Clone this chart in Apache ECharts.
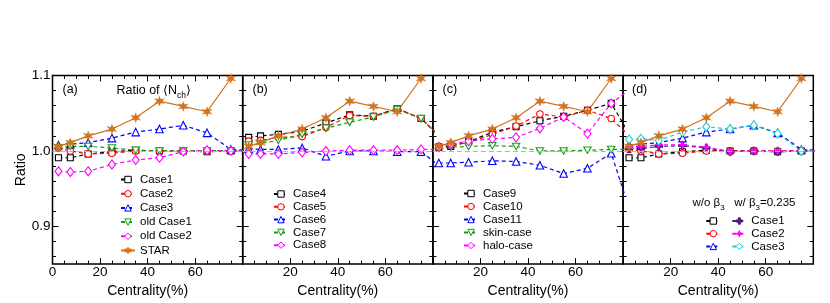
<!DOCTYPE html>
<html><head><meta charset="utf-8">
<script src="https://cdn.jsdelivr.net/npm/echarts@6/dist/echarts.min.js"></script>
<style>html,body{margin:0;padding:0;background:#fff}#c{width:830px;height:303px}</style>
</head><body><div id="c"></div>
<script>
// ---------- data ----------
const centrality = [2.5, 7.5, 15, 25, 35, 45, 55, 65, 75, 85];
const xTickLabels = [0, 20, 40, 60];
const yTickLabels = [0.9, 1.0, 1.1];
const yMinorTicks = [0.86, 0.88, 0.92, 0.94, 0.96, 0.98, 1.02, 1.04, 1.06, 1.08];
const refLevel = 1.0;

const starValues = [1.006, 1.011, 1.020, 1.029, 1.044, 1.066, 1.059, 1.052, 1.096];

// panel (a)
const aCase1 = [0.991, 0.991, 0.996, 0.999, 1.001, 1.000, 1.000, 0.999, 1.000, 1.000];
const aCase2 = [1.004, 1.000, 0.996, 0.997, 1.000, 1.000, 1.000, 1.000, 1.000, 1.000];
const aCase3 = [1.008, 1.009, 1.011, 1.017, 1.025, 1.029, 1.034, 1.024, 1.002, 1.000];
const aOldCase1 = [1.004, 1.006, 1.006, 1.004, 1.001, 1.000, 1.000, 1.000, 1.000, 1.000];
const aOldCase2 = [0.973, 0.972, 0.973, 0.982, 0.988, 0.991, 0.999, 1.001, 1.000, 1.000];
// panel (b)
const bCase4 = [1.018, 1.020, 1.022, 1.026, 1.037, 1.048, 1.046, 1.056, 1.043, 1.013];
const bCase5 = [1.013, 1.014, 1.018, 1.019, 1.031, 1.047, 1.046, 1.056, 1.043, 1.013];
const bCase6 = [1.003, 1.002, 1.002, 1.004, 0.993, 1.000, 1.000, 0.999, 0.999, 0.975];
const bCase7 = [1.008, 1.010, 1.014, 1.022, 1.030, 1.038, 1.045, 1.055, 1.043, 1.013];
const bCase8 = [0.996, 0.996, 0.996, 0.998, 1.000, 1.001, 1.001, 1.001, 1.002, 1.002];
// panel (c)
const cCase9 = [1.005, 1.006, 1.012, 1.025, 1.032, 1.040, 1.046, 1.054, 1.063, 1.010];
const cCase10 = [1.006, 1.008, 1.011, 1.022, 1.033, 1.049, 1.045, 1.054, 1.043, 1.013];
const cCase11 = [0.984, 0.984, 0.985, 0.987, 0.986, 0.981, 0.970, 0.977, 0.997, 0.900];
const cSkin = [1.004, 1.005, 1.006, 1.007, 1.006, 1.000, 1.000, 1.001, 1.002, 1.002];
const cHalo = [1.005, 1.009, 1.013, 1.016, 1.018, 1.030, 1.045, 1.023, 1.063, 1.087];
// panel (d)
const dWoCase1 = [0.991, 0.991, 0.996, 0.999, 1.001, 1.000, 1.000, 0.999, 1.000, 1.000];
const dWoCase2 = [1.002, 1.000, 0.996, 0.997, 1.000, 1.000, 1.000, 1.000, 1.000, 1.000];
const dWoCase3 = [1.008, 1.009, 1.011, 1.017, 1.025, 1.029, 1.034, 1.024, 1.002, 1.000];
const dWCase1 = [1.003, 1.003, 1.006, 1.007, 1.004, 0.999, 1.000, 0.999, 1.000, 1.000];
const dWCase2 = [1.006, 1.006, 1.008, 1.008, 1.005, 0.999, 1.000, 1.000, 1.000, 1.000];
const dWCase3 = [1.015, 1.016, 1.014, 1.025, 1.032, 1.029, 1.034, 1.023, 1.000, 1.000];

// ---------- styles ----------
const FONT = '"Liberation Sans", Arial, Helvetica, sans-serif';
const COL = {black:'#000000', red:'#ff0000', blue:'#0000ff', green:'#14a014', magenta:'#ff00ff',
             orange:'#d2731e', indigo:'#4b1c7a', cyan:'#1ccfcf'};
function starPath(n, ro, ri) {
  let s = 'path://';
  for (let k = 0; k < 2 * n; k++) {
    const a = k * Math.PI / n - Math.PI / 2, r = (k % 2) ? ri : ro;
    s += (k ? 'L' : 'M') + (5 + r * Math.cos(a)).toFixed(2) + ',' + (5 + r * Math.sin(a)).toFixed(2);
  }
  return s + 'Z';
}
const SYM = {square:'rect', circle:'circle', tri:'triangle', triDown:'path://M0,0L10,0L5,8.7Z',
  diamond:'diamond', star:starPath(6, 5, 2.1),
  plus:'path://M3.4,0H6.6V3.4H10V6.6H6.6V10H3.4V6.6H0V3.4H3.4Z',
  star4:'path://M5,0L6.3,3.7L10,5L6.3,6.3L5,10L3.7,6.3L0,5L3.7,3.7Z'};
const SIZE = {square:6, circle:6.5, tri:7.5, triDown:[7.5,6.5], diamond:[7,9], star:10, plus:8, star4:9};
const FILLED = {star:true, plus:true, star4:true};

const gridLeft0 = 52.5, gridW = 190.2, gridTop = 75.5, gridH = 190.5;
const grids = [], xAxes = [], yAxes = [], series = [];
const tickLS = {color:'#000', width:1};
for (let i = 0; i < 4; i++) {
  grids.push({left: gridLeft0 + i * gridW, top: gridTop, width: gridW, height: gridH,
    show: true, borderColor: '#000', borderWidth: 1.5, backgroundColor: 'transparent'});
  const xb = {gridIndex: i, type: 'value', min: 0, max: 80, interval: 20,
    splitLine: {show: false}, minorSplitLine: {show: false}, axisLine: {show: false, onZero: false},
    axisTick: {show: true, inside: true, length: 6, lineStyle: tickLS},
    minorTick: {show: true, splitNumber: 4, length: 3.5, lineStyle: tickLS}};
  xAxes.push(Object.assign({}, xb, {position: 'bottom',
    axisLabel: {show: true, fontSize: 13.5, color: '#000', fontFamily: FONT, margin: 1,
      formatter: v => (xTickLabels.indexOf(v) >= 0 && !(i > 0 && v === 0)) ? String(v) : ''},
    name: 'Centrality(%)', nameLocation: 'middle', nameGap: 17,
    nameTextStyle: {fontSize: 14, color: '#000', fontFamily: FONT}}));
  xAxes.push(Object.assign({}, xb, {position: 'top', axisLabel: {show: false}}));
  const yb = {gridIndex: i, type: 'value', min: 0.85, max: 1.1,
    splitLine: {show: false}, axisLine: {show: false, onZero: false}, minorTick: {show: false}};
  yAxes.push(Object.assign({}, yb, {position: 'left',
    axisTick: {show: true, inside: true, length: 6, customValues: yTickLabels, lineStyle: tickLS},
    axisLabel: {show: i === 0, customValues: yTickLabels, formatter: v => v.toFixed(1),
      fontSize: 13.5, color: '#000', fontFamily: FONT, margin: 2},
    name: i === 0 ? 'Ratio' : '', nameLocation: 'middle', nameGap: 22,
    nameTextStyle: {fontSize: 14, color: '#000', fontFamily: FONT}}));
  yAxes.push(Object.assign({}, yb, {position: 'left', axisLabel: {show: false},
    axisTick: {show: true, inside: true, length: 3.5, customValues: yMinorTicks, lineStyle: tickLS}}));
  yAxes.push(Object.assign({}, yb, {position: 'right', axisLabel: {show: false},
    axisTick: {show: true, inside: true, length: 6, customValues: yTickLabels, lineStyle: tickLS}}));
  yAxes.push(Object.assign({}, yb, {position: 'right', axisLabel: {show: false},
    axisTick: {show: true, inside: true, length: 3.5, customValues: yMinorTicks, lineStyle: tickLS}}));
}

function mk(panel, name, values, color, sym, dashed, withRef) {
  const s = {
    type: 'line', name: 'abcd'[panel] + ':' + name, xAxisIndex: panel * 2, yAxisIndex: panel * 4,
    data: values.map((v, k) => [centrality[k], v]),
    symbol: SYM[sym], symbolSize: SIZE[sym], clip: true, animation: false,
    lineStyle: {color: color, width: 1.2, type: dashed ? [4, 3] : 'solid'},
    itemStyle: FILLED[sym] ? {color: color, borderColor: color, borderWidth: 0.3}
                           : {color: '#ffffff', borderColor: color, borderWidth: 1.1},
    emphasis: {disabled: true}
  };
  if (withRef) {
    s.markLine = {silent: true, symbol: 'none', animation: false, label: {show: false},
      lineStyle: {color: '#b4b4b4', type: [5, 3], width: 1}, data: [{yAxis: refLevel}]};
  }
  series.push(s);
}
// (a)
mk(0, 'Case1', aCase1, COL.black, 'square', true, true);
mk(0, 'Case2', aCase2, COL.red, 'circle', true);
mk(0, 'Case3', aCase3, COL.blue, 'tri', true);
mk(0, 'old Case1', aOldCase1, COL.green, 'triDown', true);
mk(0, 'old Case2', aOldCase2, COL.magenta, 'diamond', true);
mk(0, 'STAR', starValues, COL.orange, 'star', false);
// (b)
mk(1, 'Case4', bCase4, COL.black, 'square', true, true);
mk(1, 'Case5', bCase5, COL.red, 'circle', true);
mk(1, 'Case6', bCase6, COL.blue, 'tri', true);
mk(1, 'Case7', bCase7, COL.green, 'triDown', true);
mk(1, 'Case8', bCase8, COL.magenta, 'diamond', true);
mk(1, 'STAR', starValues, COL.orange, 'star', false);
// (c)
mk(2, 'Case9', cCase9, COL.black, 'square', true, true);
mk(2, 'Case10', cCase10, COL.red, 'circle', true);
mk(2, 'Case11', cCase11, COL.blue, 'tri', true);
mk(2, 'skin-case', cSkin, COL.green, 'triDown', true);
mk(2, 'halo-case', cHalo, COL.magenta, 'diamond', true);
mk(2, 'STAR', starValues, COL.orange, 'star', false);
// (d)
mk(3, 'wo Case1', dWoCase1, COL.black, 'square', true, true);
mk(3, 'wo Case2', dWoCase2, COL.red, 'circle', true);
mk(3, 'wo Case3', dWoCase3, COL.blue, 'tri', true);
mk(3, 'Case1', dWCase1, COL.indigo, 'plus', true);
mk(3, 'Case2', dWCase2, COL.magenta, 'star4', true);
mk(3, 'Case3', dWCase3, COL.cyan, 'diamond', true);
mk(3, 'STAR', starValues, COL.orange, 'star', false);

function leg(names, left, top, gap, lh, textColor) {
  return {data: names, left: left, top: top, orient: 'vertical', padding: 0,
    itemWidth: 14, itemHeight: 8, itemGap: gap, selectedMode: false,
    itemStyle: {borderWidth: 1},
    formatter: n => n.split(':')[1].replace('wo ', ''),
    textStyle: {fontSize: 11.5, fontFamily: FONT, color: textColor || '#000', lineHeight: lh}};
}
const legends = [
  leg(['a:Case1', 'a:Case2', 'a:Case3', 'a:old Case1', 'a:old Case2', 'a:STAR'], 120, 173.5, 2.2, 12),
  leg(['b:Case4', 'b:Case5', 'b:Case6', 'b:Case7', 'b:Case8'], 273, 188, 0.8, 12),
  leg(['c:Case9', 'c:Case10', 'c:Case11', 'c:skin-case', 'c:halo-case'], 463, 187.5, 1, 12),
  leg(['d:wo Case1', 'd:wo Case2', 'd:wo Case3'], 705.3, 215, 0.7, 11, 'rgba(0,0,0,0)'),
  leg(['d:Case1', 'd:Case2', 'd:Case3'], 731.3, 215, 0.7, 11)
];

const richMain = {
  a: {fontSize: 12.5, fontFamily: FONT + ', "DejaVu Sans"', lineHeight: 18, verticalAlign: 'middle', color: '#000'},
  s: {fontSize: 8.5, fontFamily: FONT, lineHeight: 10, verticalAlign: 'bottom', color: '#000'}
};
function txt(x, y, text, size) {
  return {type: 'text', x: x, y: y, silent: true,
    style: {text: text, fill: '#000', font: (size || 12.5) + 'px ' + FONT, verticalAlign: 'middle', align: 'left'}};
}
const graphics = [
  txt(62.5, 90, '(a)'), txt(252.5, 90, '(b)'), txt(442.5, 90, '(c)'), txt(632, 90, '(d)'),
  {type: 'text', x: 116.5, y: 91, silent: true,
   style: {text: '{a|Ratio of \u27E8N}{s|ch}{a|\u27E9}', rich: richMain, verticalAlign: 'middle', align: 'left'}},
  {type: 'text', x: 692.5, y: 202.5, silent: true,
   style: {text: '{a|w/o \u03B2}{s|3}{a|   w/ \u03B2}{s|3}{a|=0.235}',
     rich: {a: Object.assign({}, richMain.a, {fontSize: 11.5}), s: Object.assign({}, richMain.s, {fontSize: 8})},
     verticalAlign: 'middle', align: 'left'}}
];

const chart = echarts.init(document.getElementById('c'), null, {renderer: 'canvas'});
chart.setOption({
  backgroundColor: '#ffffff', animation: false,
  grid: grids, xAxis: xAxes, yAxis: yAxes, series: series, legend: legends, graphic: graphics
});
</script></body></html>
